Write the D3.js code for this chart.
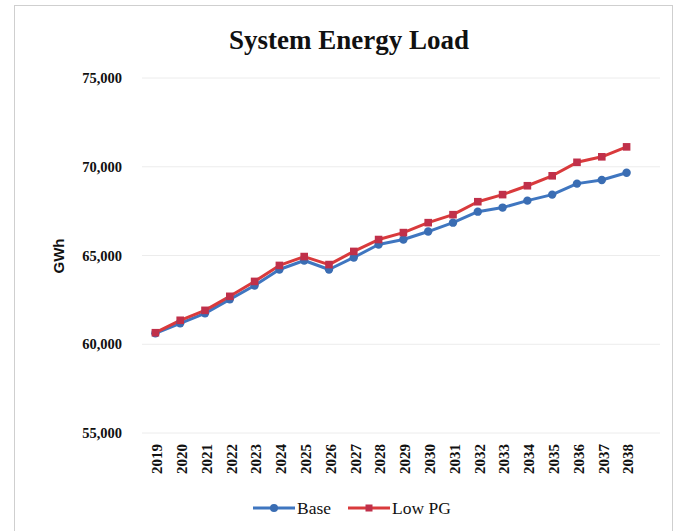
<!DOCTYPE html>
<html><head><meta charset="utf-8">
<script src="https://cdn.jsdelivr.net/npm/d3@7"></script>
<style>body{margin:0;background:#fff}svg{display:block}</style>
</head><body>
<svg id="c" width="687" height="531"></svg>
<script>
const years = ["2019","2020","2021","2022","2023","2024","2025","2026","2027","2028","2029","2030","2031","2032","2033","2034","2035","2036","2037","2038"];
const baseVals = [60620,61180,61740,62530,63310,64210,64720,64210,64890,65620,65900,66350,66850,67470,67700,68090,68430,69050,69250,69660];
const lowPGVals = [60650,61350,61910,62700,63540,64440,64940,64490,65230,65900,66290,66850,67300,68030,68430,68930,69490,70250,70560,71120];
const yTicks = [55000,60000,65000,70000,75000];
const seriesNames = ["Base","Low PG"];
const colors = {line:["#3F76C0","#D93A3C"], mark:["#3A6DB3","#C0304A"]};

const svg = d3.select("#c");
const serif = "'Liberation Serif','Times New Roman',serif";

svg.append("rect").attr("x",14.5).attr("y",5.5).attr("width",658).attr("height",540)
  .attr("fill","none").attr("stroke","#cfcfcf");

const x = d3.scalePoint().domain(years).range([143,639]).padding(0.5);
const y = d3.scaleLinear().domain([55000,75000]).range([433,78]);

// gridlines
svg.append("g").selectAll("line").data(yTicks).join("line")
  .attr("x1",142).attr("x2",660).attr("y1",d=>y(d)).attr("y2",d=>y(d))
  .attr("stroke","#ececec").attr("stroke-width",1);

// y axis
const ya = svg.append("g").attr("transform","translate(122,0)")
  .call(d3.axisLeft(y).tickValues(yTicks).tickSize(0).tickPadding(0).tickFormat(d3.format(",")));
ya.select(".domain").remove();
ya.selectAll("text").attr("font-family",serif).attr("font-weight","bold").attr("font-size",14.5).attr("fill","#111");

// x axis
const xa = svg.append("g").attr("transform","translate(0,441)")
  .call(d3.axisBottom(x).tickSize(0).tickPadding(0));
xa.select(".domain").remove();
xa.selectAll(".tick text").attr("font-family",serif).attr("font-weight","bold").attr("font-size",15).attr("fill","#111")
  .attr("transform","rotate(-90)").attr("text-anchor","end").attr("dy","0.35em").attr("x",-3).attr("y",1);

// title
svg.append("text").attr("x",349).attr("y",49).attr("text-anchor","middle")
  .attr("font-family",serif).attr("font-weight","bold").attr("font-size",27).attr("fill","#111")
  .text("System Energy Load");

// y label
svg.append("text").attr("transform","translate(64,256) rotate(-90)").attr("text-anchor","middle")
  .attr("font-family","'Liberation Sans',Arial,sans-serif").attr("font-weight","bold").attr("font-size",15).attr("fill","#111")
  .text("GWh");

const data = [baseVals, lowPGVals];
const line = d3.line().x((d,i)=>x(years[i])).y(d=>y(d));
data.forEach((vals,si)=>{
  svg.append("path").datum(vals).attr("d",line).attr("fill","none")
    .attr("stroke",colors.line[si]).attr("stroke-width",3).attr("stroke-linejoin","round");
});
// markers
svg.append("g").selectAll("circle").data(baseVals).join("circle")
  .attr("cx",(d,i)=>x(years[i])).attr("cy",d=>y(d)).attr("r",4.2).attr("fill",colors.mark[0]);
svg.append("g").selectAll("rect").data(lowPGVals).join("rect")
  .attr("x",(d,i)=>x(years[i])-3.8).attr("y",d=>y(d)-3.8).attr("width",7.6).attr("height",7.6).attr("fill",colors.mark[1]);

// legend
const lg = svg.append("g").attr("transform","translate(0,508)");
const lx = [253,348];
seriesNames.forEach((n,i)=>{
  lg.append("line").attr("x1",lx[i]).attr("x2",lx[i]+42).attr("y1",0).attr("y2",0)
    .attr("stroke",colors.line[i]).attr("stroke-width",3);
  if(i===0) lg.append("circle").attr("cx",lx[i]+21).attr("cy",0).attr("r",4).attr("fill",colors.mark[0]);
  else lg.append("rect").attr("x",lx[i]+17.5).attr("y",-3.5).attr("width",7).attr("height",7).attr("fill",colors.mark[1]);
  lg.append("text").attr("x",lx[i]+44).attr("y",0).attr("dy","0.35em")
    .attr("font-family",serif).attr("font-size",17.5).attr("fill","#111").text(n);
});
</script>
</body></html>
